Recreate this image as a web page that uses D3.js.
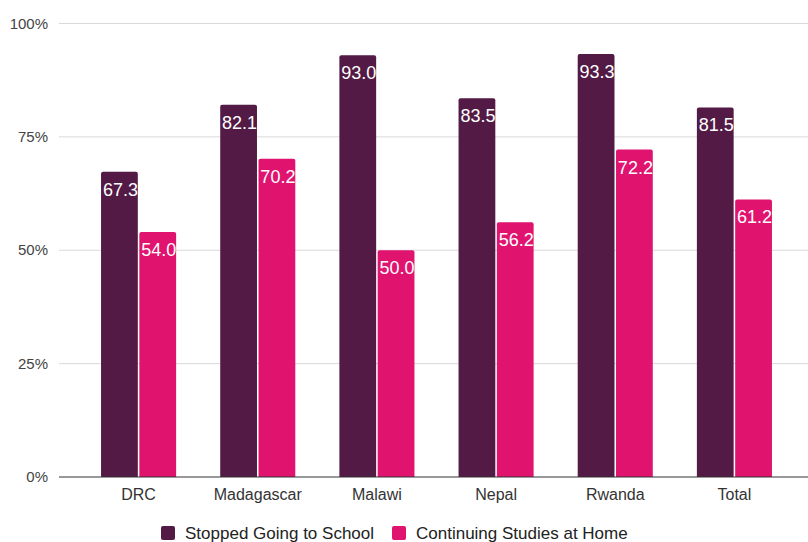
<!DOCTYPE html>
<html>
<head>
<meta charset="utf-8">
<script src="https://cdn.jsdelivr.net/npm/d3@7"></script>
<style>
  html, body { margin: 0; padding: 0; background: #fff; }
  svg { display: block; }
</style>
</head>
<body>
<svg id="chart" width="808" height="542"></svg>
<script>
// Share of children, by country
const countries = ["DRC", "Madagascar", "Malawi", "Nepal", "Rwanda", "Total"];
const stoppedSchool = [67.3, 82.1, 93.0, 83.5, 93.3, 81.5];
const continuingHome = [54.0, 70.2, 50.0, 56.2, 72.2, 61.2];
const seriesNames = ["Stopped Going to School", "Continuing Studies at Home"];
const yTicks = [0, 25, 50, 75, 100];

const colors = ["#521a44", "#e0136f"];
const font = "Arial, 'Liberation Sans', sans-serif";

const svg = d3.select("#chart");

const y = d3.scaleLinear().domain([0, 100]).range([477, 23.5]);
const x0 = d3.scaleBand().domain(countries).range([79, 794])
  .paddingInner(0.37).paddingOuter(0.185);
const x1 = d3.scaleBand().domain(seriesNames).range([0, x0.bandwidth()])
  .paddingInner(0.04);

// gridlines
svg.append("g").selectAll("line").data(yTicks.filter(d => d > 0)).join("line")
  .attr("x1", 59).attr("x2", 808)
  .attr("y1", d => y(d)).attr("y2", d => y(d))
  .attr("stroke", "#d9d9d9").attr("stroke-width", 1);

// y labels
svg.append("g").selectAll("text").data(yTicks).join("text")
  .attr("x", 48).attr("y", d => y(d) + 5)
  .attr("text-anchor", "end")
  .attr("font-family", font).attr("font-size", 15).attr("fill", "#444")
  .text(d => d + "%");

const rows = countries.map((c, i) => ({ c, vals: [stoppedSchool[i], continuingHome[i]] }));

// rounded-top bar path
function barPath(x, yTop, w, yBase, r) {
  r = Math.min(r, w / 2, yBase - yTop);
  return `M${x},${yBase}V${yTop + r}Q${x},${yTop} ${x + r},${yTop}H${x + w - r}Q${x + w},${yTop} ${x + w},${yTop + r}V${yBase}Z`;
}

const groups = svg.append("g").selectAll("g").data(rows).join("g")
  .attr("transform", d => `translate(${x0(d.c)},0)`);

groups.selectAll("path").data(d => d.vals.map((v, k) => ({ v, k }))).join("path")
  .attr("d", d => barPath(x1(seriesNames[d.k]), y(d.v), x1.bandwidth(), y(0), 2))
  .attr("fill", d => colors[d.k]);

groups.selectAll("text").data(d => d.vals.map((v, k) => ({ v, k }))).join("text")
  .attr("x", d => x1(seriesNames[d.k]) + x1.bandwidth() / 2 + 1)
  .attr("y", d => y(d.v) + 24)
  .attr("text-anchor", "middle")
  .attr("font-family", font).attr("font-size", 18).attr("fill", "#fff")
  .text(d => d.v.toFixed(1));

// baseline axis
svg.append("line").attr("x1", 59).attr("x2", 808)
  .attr("y1", y(0)).attr("y2", y(0))
  .attr("stroke", "#333").attr("stroke-width", 1);

// category labels
svg.append("g").selectAll("text").data(countries).join("text")
  .attr("x", d => x0(d) + x0.bandwidth() / 2)
  .attr("y", 500)
  .attr("text-anchor", "middle")
  .attr("font-family", font).attr("font-size", 16).attr("fill", "#333")
  .text(d => d);

// legend
const legendX = [161, 392];
const leg = svg.append("g").selectAll("g").data(seriesNames).join("g")
  .attr("transform", (d, i) => `translate(${legendX[i]},0)`);
leg.append("rect").attr("x", 0).attr("y", 526).attr("width", 14).attr("height", 14)
  .attr("rx", 2).attr("fill", (d, i) => colors[i]);
leg.append("text").attr("x", 24).attr("y", 539)
  .attr("font-family", font).attr("font-size", 17).attr("fill", "#222")
  .text(d => d);
</script>
</body>
</html>
